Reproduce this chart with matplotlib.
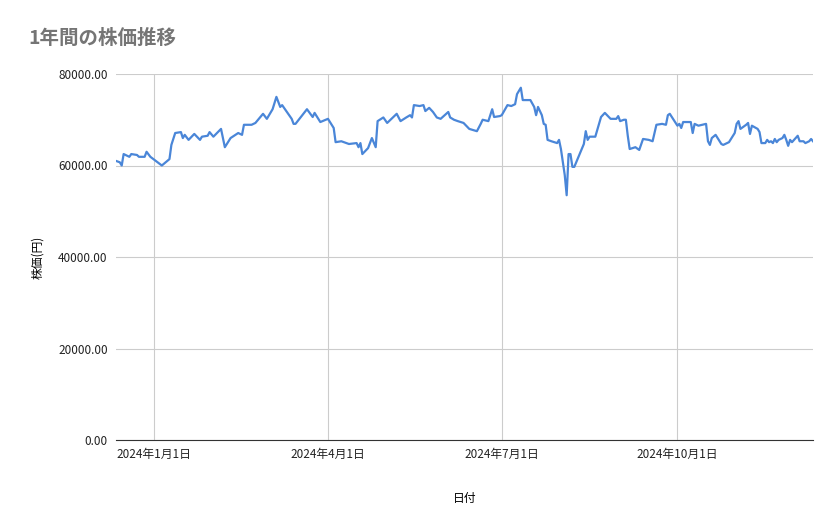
import matplotlib
matplotlib.use("Agg")
import matplotlib.pyplot as plt
import pandas as pd

plt.rcParams['font.family'] = ['Noto Sans CJK JP', 'DejaVu Sans']

# days offset from 2024-01-01
days = [-20,-18,-17,-16,-13,-12,-9,-8,-5,-4,-2,4,8,9,11,14,15,16,18,21,24,25,28,29,31,35,37,40,44,46,47,51,53,57,59,62,64,66,67,72,73,74,80,83,84,87,91,94,95,98,102,106,107,108,109,112,114,116,117,120,122,127,129,132,134,135,136,139,141,142,144,146,148,150,154,155,157,159,162,165,169,171,172,175,177,178,181,182,185,187,189,190,192,193,197,199,200,201,203,204,205,206,208,211,212,213,215,216,217,218,219,220,225,226,227,228,231,234,236,239,242,243,244,246,247,248,249,252,254,256,259,261,263,266,268,269,270,272,274,275,276,277,281,282,283,285,289,290,291,292,294,297,298,301,304,305,306,307,310,311,312,313,316,317,318,320,321,322,323,324,325,326,327,329,330,331,332,333,334,337,338,340,341,343,344,345]
prices = [61000,60700,60000,62500,61900,62500,62300,61900,61900,63000,61900,60000,61400,64500,67100,67300,66000,66700,65600,66900,65600,66300,66500,67300,66300,68000,64000,66000,67100,66700,68900,68900,69300,71300,70200,72300,75000,72800,73200,70200,69100,69100,72300,70600,71500,69500,70200,68200,65100,65300,64700,64900,64000,64900,62500,63800,66000,64000,69700,70500,69300,71300,69700,70500,71000,70500,73200,73000,73200,71900,72600,71700,70500,70200,71700,70500,70000,69700,69300,68000,67500,69100,70000,69700,72300,70600,70800,71000,73200,73000,73400,75600,77000,74300,74300,72800,71000,72800,71000,69100,68900,65600,65300,64900,65600,63600,57900,53500,62500,62500,59700,59700,64700,67500,65600,66300,66300,70600,71500,70200,70200,70800,69700,70000,70000,66500,63600,64000,63400,65800,65600,65300,68900,69100,68900,71000,71300,70000,68700,69100,68200,69500,69500,67100,69100,68700,69100,65300,64500,66000,66700,64700,64500,65100,67100,69100,69700,68000,68900,69300,66900,68700,68000,67300,64900,64900,65600,65100,65300,64900,65800,65100,65600,66000,66700,65600,64300,65600,65100,66500,65300,65300,64900,65300,65800,65300]
tick_dates = ["2024-01-01", "2024-04-01", "2024-07-01", "2024-10-01"]
tick_labels = ["2024年1月1日", "2024年4月1日", "2024年7月1日", "2024年10月1日"]
yticks = [0, 20000, 40000, 60000, 80000]

base = pd.Timestamp("2024-01-01")
dates = [base + pd.Timedelta(days=d) for d in days]

fig = plt.figure(figsize=(8.39, 5.19), dpi=100)
ax = fig.add_axes([116/839, 1-440/519, (813-116)/839, (440-74)/519])
ax.plot(dates, prices, color="#4a86d8", lw=1.6)
ax.set_xlim(base + pd.Timedelta(days=-20), base + pd.Timedelta(days=345))
ax.set_ylim(0, 80000)
ax.set_yticks(yticks)
ax.set_yticklabels([f"{v:.2f}" for v in yticks])
ax.set_xticks([pd.Timestamp(d) for d in tick_dates])
ax.set_xticklabels(tick_labels)
ax.grid(True, color="#cccccc", lw=0.8)
ax.set_axisbelow(True)
for s in ["top", "right", "left"]:
    ax.spines[s].set_visible(False)
ax.spines["bottom"].set_color("#333333")
ax.tick_params(length=0, labelsize=8.5, colors="#222222", pad=6)
ax.set_xlabel("日付", fontsize=8.5, labelpad=22)
ax.set_ylabel("株価(円)", fontsize=8.5, labelpad=10)
fig.text(28/839, 1-38/519, "1年間の株価推移", fontsize=14, color="#757575", va="center", fontweight="bold")
fig.savefig("out.png", dpi=100)
